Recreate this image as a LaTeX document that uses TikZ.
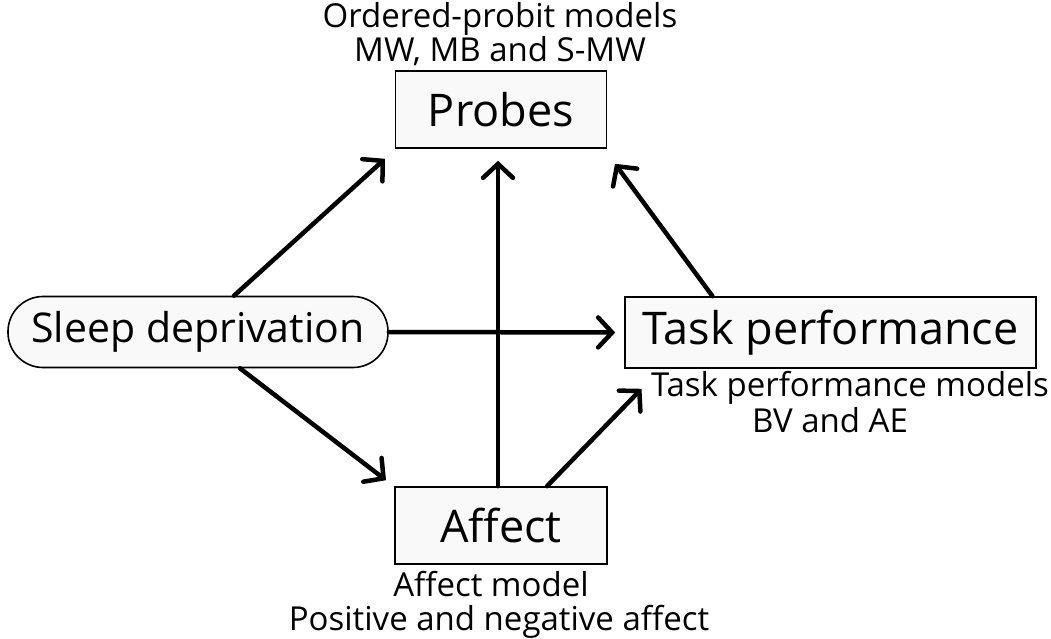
\documentclass[tikz,border=0pt]{standalone}
\usepackage{fontspec}
\setmainfont{Open Sans}
\usetikzlibrary{arrows.meta}
\definecolor{boxfill}{HTML}{F9F9F9}
\tikzset{
  box/.style={draw=black, line width=1.6pt, fill=boxfill, inner sep=0pt, font=\fontsize{45}{54}\selectfont},
  lbl/.style={align=center, inner sep=0pt, font=\fontsize{33}{34}\selectfont},
  arr/.style={line width=4.5pt, -{Straight Barb[length=14pt,width=30pt,line cap=round]}, line cap=round},
}
\begin{document}
\begin{tikzpicture}[x=1pt,y=-1pt]
\useasboundingbox (0,0) rectangle (1051,639);
\node[box, minimum width=211pt, minimum height=77pt] (probes) at (501,109.5) {Probes};
\node[box, minimum width=380pt, minimum height=71pt, rounded corners=35pt, font=\fontsize{41}{50}\selectfont] (sleep) at (198,332) {Sleep deprivation};
\node[box, minimum width=411pt, minimum height=71pt] (task) at (830.5,332.5) {Task performance};
\node[box, minimum width=212pt, minimum height=77pt] (affect) at (501,525.5) {Affect};
\node[lbl, anchor=base] (lprobes) at (500,62) {Ordered-probit models\\MW, MB and S-MW};
\node[lbl, anchor=base, font=\fontsize{33}{36}\selectfont] (ltask) at (850,432) {Task performance models\\BV and AE\kern40pt};
\node[lbl, anchor=base] (laffect) at (499,630) {Affect model\kern16pt\\Positive and negative affect};
\draw[arr] ([xshift=36pt]sleep.north) -- ([xshift=-116pt,yshift=-10pt]probes.south);
\draw[arr] ([xshift=-3pt]affect.north) -- ([xshift=-3pt,yshift=-12pt]probes.south);
\draw[arr] (sleep.east) -- ([xshift=-9pt]task.west);
\draw[arr] ([xshift=42pt]sleep.south) -- ([xshift=-115pt,yshift=6pt]affect.north);
\draw[arr] ([xshift=46pt]affect.north) -- ([xshift=-189pt,yshift=-20pt]task.south);
\draw[arr] ([xshift=-118pt]task.north) -- ([xshift=114pt,yshift=-15pt]probes.south);
\end{tikzpicture}
\end{document}
